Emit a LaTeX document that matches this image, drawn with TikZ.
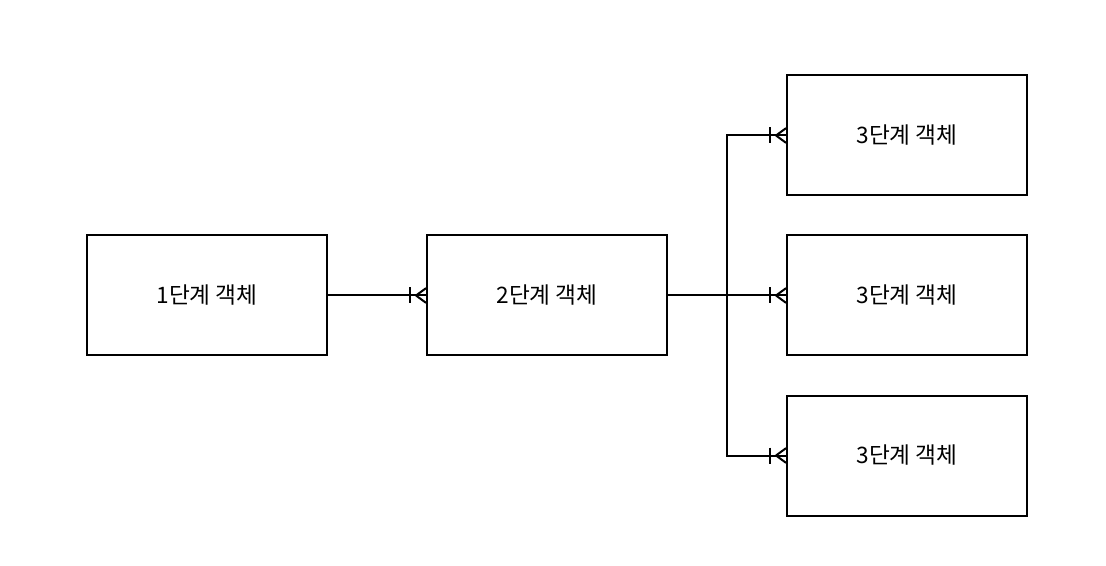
\documentclass[tikz,border=0pt]{standalone}
\usepackage{fontspec}
\setmainfont{Liberation Sans}
\newfontfamily\krfont{Noto Sans CJK KR}
\usetikzlibrary{decorations.markings}
\tikzset{
    entity/.style={draw, line width=1.5pt, minimum width=180pt, minimum height=90pt,
        font=\krfont\fontsize{17}{20}\selectfont},
    tomany/.style={line width=1.5pt, postaction={decorate}, decoration={markings,
        mark=at position 1 with {
            \draw[line width=1.5pt] (-7.5pt,0) -- (0,5.5pt);
            \draw[line width=1.5pt] (-7.5pt,0) -- (0,-5.5pt);
            \draw[line width=1.5pt] (-12pt,6pt) -- (-12pt,-6pt);
        }}}
}
\begin{document}
\begin{tikzpicture}[x=0.75pt, y=-0.75pt]
    \useasboundingbox (0,0) rectangle (1106,566);

    % 객체 상자
    \node[entity] (lv1) at (207,295.5) {1단계 객체};
    \node[entity] (lv2) at (547,295.5) {2단계 객체};
    \foreach \n/\y in {a/135.5, b/295.5, c/455.5} {
        \node[entity] (lv3\n) at (907,\y) {3단계 객체};
    }

    % 분기점
    \coordinate (split) at (727,295.5);

    % 연결선
    \draw[tomany] (lv1.east) -- (lv2.west);
    \draw[tomany] (lv2.east) -- (lv3b.west);
    \foreach \n in {a, c} {
        \draw[tomany] (split) |- (lv3\n.west);
    }
\end{tikzpicture}
\end{document}
